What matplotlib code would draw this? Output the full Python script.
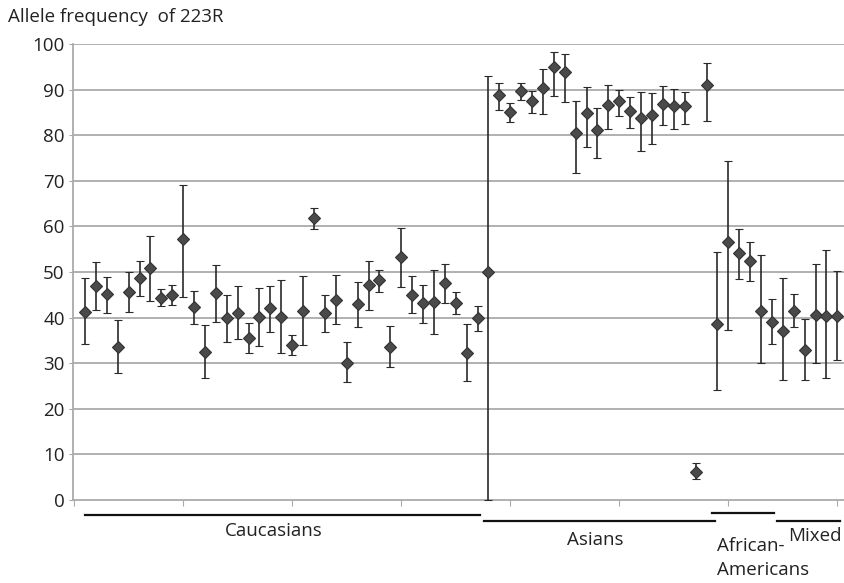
import matplotlib
matplotlib.use("Agg")
import matplotlib.pyplot as plt
import numpy as np

plt.rcParams['font.family'] = ['Open Sans', 'DejaVu Sans']

# allele frequency (%) of 223R per study, with lower / upper interval bounds
caucasians = [41.3, 46.9, 45.2, 33.5, 45.6, 48.6, 50.9, 44.4, 45.0, 57.2,
              42.3, 32.5, 45.3, 39.8, 41.1, 35.5, 40.1, 42.0, 40.2, 33.9,
              41.4, 61.8, 40.9, 43.9, 30.1, 42.9, 47.1, 48.2, 33.6, 53.2,
              45.0, 43.1, 43.4, 47.5, 43.2, 32.2, 40.0]
caucasians_lo = [34.2, 41.7, 41.1, 27.8, 41.3, 44.8, 43.7, 42.5, 42.7, 44.6,
                 38.7, 26.8, 39.0, 34.6, 35.3, 32.2, 33.8, 36.8, 32.3, 31.7,
                 34.0, 59.4, 36.8, 38.5, 25.8, 38.0, 41.7, 45.5, 29.2, 46.6,
                 41.1, 38.9, 36.4, 43.3, 40.7, 26.2, 37.1]
caucasians_hi = [48.6, 52.2, 49.0, 39.5, 49.9, 52.4, 57.9, 46.2, 47.1, 69.1,
                 45.8, 38.4, 51.5, 45.0, 46.9, 38.9, 46.4, 47.0, 48.2, 36.2,
                 49.1, 64.0, 45.0, 49.3, 34.6, 47.7, 52.3, 50.4, 38.2, 59.7,
                 49.1, 47.2, 50.4, 51.7, 45.5, 38.5, 42.6]

asians = [50.0, 88.7, 85.1, 89.7, 87.6, 90.4, 95.0, 93.9, 80.4, 84.9, 81.1,
          86.7, 87.4, 85.3, 83.7, 84.4, 86.9, 86.3, 86.3, 6.1, 91.1]
asians_lo = [0.0, 85.5, 82.8, 87.7, 84.9, 84.6, 88.6, 87.3, 71.8, 77.3, 75.1,
             81.4, 84.2, 81.5, 76.5, 78.1, 82.2, 81.4, 82.4, 4.5, 83.1]
asians_hi = [93.0, 91.4, 87.1, 91.4, 89.7, 94.4, 98.3, 97.7, 87.5, 90.6, 86.0,
             90.9, 89.8, 88.4, 89.5, 89.3, 90.7, 90.1, 89.4, 8.0, 95.9]

african_am = [38.5, 56.6, 54.1, 52.4, 41.5, 39.0]
african_am_lo = [24.1, 37.2, 48.5, 48.0, 30.0, 34.2]
african_am_hi = [54.4, 74.4, 59.4, 56.6, 53.7, 44.1]

mixed = [37.1, 41.4, 32.8, 40.6, 40.3, 40.3]
mixed_lo = [26.3, 37.9, 26.3, 30.0, 26.8, 30.7]
mixed_hi = [48.6, 45.1, 39.7, 51.8, 54.8, 50.3]

groups = [
    ("Caucasians", caucasians, caucasians_lo, caucasians_hi),
    ("Asians", asians, asians_lo, asians_hi),
    ("African-\nAmericans", african_am, african_am_lo, african_am_hi),
    ("Mixed", mixed, mixed_lo, mixed_hi),
]

fig = plt.figure(figsize=(8.45, 5.83), dpi=100)
ax = fig.add_axes([0.0864, 0.1424, 0.9136, 0.7822])

grid_col = "#aaaaaa"
txt_col = "#222222"
fs = 13.5
for yv in range(10, 101, 10):
    ax.axhline(yv, color=grid_col, lw=1.3, zorder=0)

# underline + label under each group (label y is the first text line's centre)
bar_y = {"Caucasians": -0.033, "Asians": -0.047,
         "African-\nAmericans": -0.028, "Mixed": -0.047}
label_pos = {"Caucasians": (18.3, -0.068, "center"),
             "Asians": (47.8, -0.088, "center"),
             "African-\nAmericans": (59.0, -0.101, "left"),
             "Mixed": (65.5, -0.078, "left")}
line_step = 0.052
pad_l = {"Caucasians": 1.0, "Asians": 0.6, "African-\nAmericans": 0.5, "Mixed": 0.5}
pad_r = {"Caucasians": 0.25, "Asians": 0.75, "African-\nAmericans": 0.2, "Mixed": 0.2}

start = 1
for name, vals, lo, hi in groups:
    vals = np.array(vals)
    lo = np.array(lo)
    hi = np.array(hi)
    x = np.arange(start, start + len(vals))
    ax.errorbar(x, vals, yerr=[vals - lo, hi - vals], fmt='D', ms=6,
                mfc="#4a4a4a", mec="#333333", mew=0.8,
                ecolor="#2a2a2a", elinewidth=1.2, capsize=2.6, capthick=1.2,
                zorder=3, clip_on=False)
    ax.plot([x[0] - 1 + pad_l[name], x[-1] + pad_r[name]],
            [bar_y[name], bar_y[name]], color="#111111", lw=1.6,
            transform=ax.get_xaxis_transform(), clip_on=False)
    lx, ly, ha = label_pos[name]
    for i, part in enumerate(name.split("\n")):
        ax.text(lx, ly - i * line_step, part, transform=ax.get_xaxis_transform(),
                ha=ha, va="center", fontsize=fs, color=txt_col)
    start += len(vals)

ax.set_xlim(-0.1, 70.7)
ax.set_ylim(0, 100)
ax.set_yticks(range(0, 101, 10))
ax.set_xticks(range(0, 71, 10))
ax.set_xticklabels([])
ax.tick_params(axis='y', direction='out', length=3, color=grid_col,
               labelsize=fs, labelcolor=txt_col, pad=3)
ax.tick_params(axis='x', direction='out', length=4, color=grid_col)

for side in ("top", "right"):
    ax.spines[side].set_visible(False)
for side in ("left", "bottom"):
    ax.spines[side].set_color(grid_col)
    ax.spines[side].set_linewidth(1.3)

fig.text(0.009, 0.971, "Allele frequency  of 223R", fontsize=fs,
         color=txt_col, va="center", ha="left")

fig.savefig("out.png", dpi=100)
